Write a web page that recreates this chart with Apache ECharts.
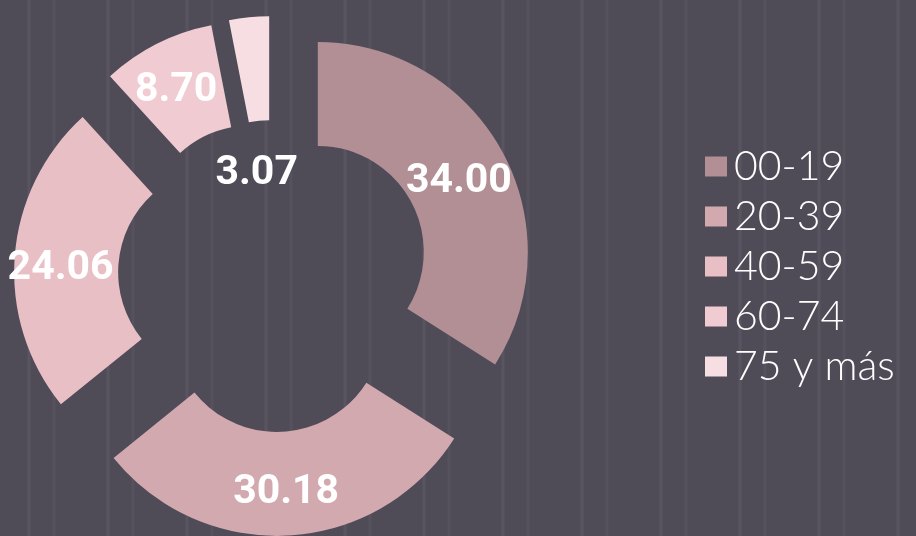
<!DOCTYPE html>
<html>
<head>
<meta charset="utf-8">
<script src="https://cdn.jsdelivr.net/npm/echarts@6/dist/echarts.min.js"></script>
<style>
  html, body { margin: 0; padding: 0; }
  body {
    width: 916px; height: 536px; overflow: hidden;
    background-color: #4f4c58;
    background-image:
      repeating-linear-gradient(90deg,
        rgba(255,255,255,0) 0px, rgba(255,255,255,0) 27px,
        rgba(255,255,255,0.05) 28px, rgba(255,255,255,0.05) 30px,
        rgba(255,255,255,0) 31px, rgba(255,255,255,0) 52px,
        rgba(255,255,255,0.035) 53px, rgba(255,255,255,0.035) 55px,
        rgba(255,255,255,0) 56px, rgba(255,255,255,0) 79px);
  }
  #chart { width: 916px; height: 536px; }
</style>
</head>
<body>
<div id="chart"></div>
<script>
// age groups and their shares (%)
const categories = ["00-19", "20-39", "40-59", "60-74", "75 y más"];
const values = [34.00, 30.18, 24.06, 8.70, 3.07];
const colors = ["#b18f95", "#d3a9b0", "#e9bfc6", "#f0ccd2", "#f6dee2"];

// label nudges (px) to match where the source put them
const labelDx = [0, 0, -3, -3, 3];
const labelDy = [7, 6, 9, 3, 108];

const chart = echarts.init(document.getElementById("chart"));

chart.setOption({
  backgroundColor: "transparent",
  animation: false,
  color: colors,
  legend: {
    orient: "vertical",
    left: 700, top: 141,
    itemWidth: 22, itemHeight: 20, itemGap: 9,
    icon: "rect",
    selectedMode: false,
    textStyle: { color: "#ffffff", fontSize: 41, fontFamily: "Lato, sans-serif", fontWeight: 300, padding: [0, 0, 0, 2] },
    data: categories,
  },
  series: [{
    type: "pie",
    center: [274, 276],
    radius: [106, 210],
    startAngle: 90,
    clockwise: true,
    selectedMode: "multiple",
    selectedOffset: 50,
    silent: true,
    emphasis: { disabled: true },
    label: {
      show: true, position: "inside",
      color: "#ffffff", fontSize: 41, fontWeight: "bold",
      fontFamily: "Roboto, Arial, sans-serif",
      formatter: (p) => p.value.toFixed(2),
    },
    labelLine: { show: false },
    labelLayout: (p) => ({ dx: labelDx[p.dataIndex], dy: labelDy[p.dataIndex] }),
    data: categories.map((c, i) => ({ name: c, value: values[i], selected: true })),
  }],
});
</script>
</body>
</html>
